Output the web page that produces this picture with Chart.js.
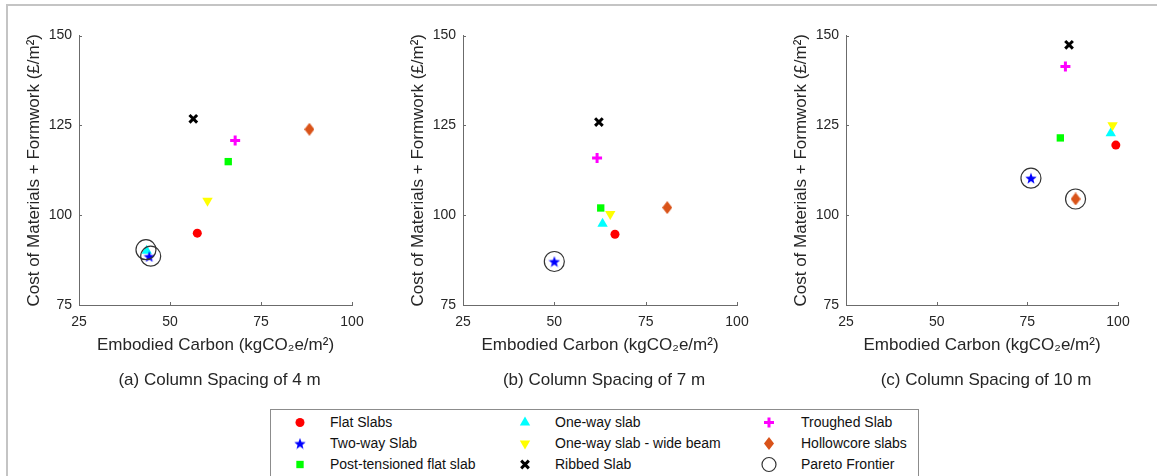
<!DOCTYPE html>
<html>
<head>
<meta charset="utf-8">
<script src="https://cdn.jsdelivr.net/npm/chart.js@4.4.1/dist/chart.umd.min.js"></script>
<style>
  html, body { margin: 0; padding: 0; background: #fff; }
  body { width: 1157px; height: 476px; position: relative; overflow: hidden; font-family: "Liberation Sans", Arial, sans-serif; }
  #frame { position: absolute; left: 6px; top: 4px; width: 1200px; height: 500px; border-left: 2px solid #c4c4c4; border-top: 2px solid #c4c4c4; }
  .panel { position: absolute; top: 0; }
  .caption { position: absolute; top: 369px; font-size: 17px; line-height: 22px; color: #262626; white-space: nowrap; transform: translateX(-50%); }
  #legend { position: absolute; left: 270px; top: 409px; width: 647px; height: 80px; border: 1px solid #8c8c8c; background: #fff; }
  .entry { position: absolute; height: 21px; }
  .entry canvas { position: absolute; left: 0; top: 0; }
  .entry span { position: absolute; top: 0; font-size: 14px; line-height: 21px; color: #111; white-space: nowrap; }
</style>
</head>
<body>
<div id="frame"></div>
<canvas id="panel-a" class="panel"></canvas>
<canvas id="panel-b" class="panel"></canvas>
<canvas id="panel-c" class="panel"></canvas>
<div id="legend"></div>

<script>
// ---------------------------------
// Data
// ---------------------------------
const panelTitles = ["(a) Column Spacing of 4 m", "(b) Column Spacing of 7 m", "(c) Column Spacing of 10 m"];
const carbonTicks = [25, 50, 75, 100];
const costTicks = [75, 100, 125, 150];

// [embodied carbon, cost] for panels a, b, c
const flatSlabs = [[57.5, 95.0], [66.6, 94.7], [99.4, 119.5]];
const twoWaySlab = [[44.3, 88.5], [50.0, 87.1], [76.0, 110.3]];
const postTensionedSlab = [[66.0, 114.9], [62.7, 102.0], [84.1, 121.5]];
const oneWaySlab = [[43.6, 90.1], [63.2, 97.6], [98.0, 122.8]];
const oneWayWideBeam = [[60.3, 104.0], [65.3, 100.3], [98.5, 125.0]];
const ribbedSlab = [[56.4, 126.8], [62.2, 125.9], [86.5, 147.4]];
const troughedSlab = [[67.9, 120.8], [61.7, 115.9], [85.5, 141.4]];
const hollowcoreSlabs = [[88.3, 123.9], [80.9, 102.1], [88.3, 104.5]];
const paretoFrontier = [
  [[43.4, 90.4], [44.7, 88.6]],
  [[50.0, 87.1]],
  [[76.0, 110.3], [88.3, 104.5]],
];

// ---------------------------------
// Styling
// ---------------------------------
const axisColor = "#6b6b6b";
const textColor = "#262626";
const fontFamily = "'Liberation Sans', Arial, sans-serif";
Chart.defaults.font.family = fontFamily;

function starImage(size, color) {
  const c = document.createElement("canvas");
  c.width = size;
  c.height = size;
  const g = c.getContext("2d");
  const R = size / 2, r = R * 0.42;
  g.beginPath();
  for (let i = 0; i < 10; i++) {
    const a = -Math.PI / 2 + (i * Math.PI) / 5;
    const rr = i % 2 ? r : R;
    g.lineTo(R + rr * Math.cos(a), R + 0.6 + rr * Math.sin(a));
  }
  g.closePath();
  g.fillStyle = color;
  g.fill();
  return c;
}

function diamondImage(w, h, color) {
  const c = document.createElement("canvas");
  c.width = w;
  c.height = h;
  const g = c.getContext("2d");
  g.beginPath();
  g.moveTo(w / 2, 0);
  g.lineTo(w, h / 2);
  g.lineTo(w / 2, h);
  g.lineTo(0, h / 2);
  g.closePath();
  g.fillStyle = color;
  g.fill();
  return c;
}

const star = starImage(12, "#0000ff");
const diamond = diamondImage(10, 13, "#d95319");

// one entry per series; order = drawing order (lower drawn on top)
const series = [
  { label: "Flat Slabs", data: flatSlabs, style: "circle", radius: 4.5, color: "#ff0000", order: 8 },
  { label: "Two-way Slab", data: twoWaySlab, style: star, radius: 6, color: "#0000ff", order: 1 },
  { label: "Post-tensioned flat slab", data: postTensionedSlab, style: "rect", radius: 5.2, color: "#00ff00", order: 7 },
  { label: "One-way slab", data: oneWaySlab, style: "triangle", radius: 6, color: "#00ffff", order: 6 },
  { label: "One-way slab - wide beam", data: oneWayWideBeam, style: "triangle", rotation: 180, radius: 6, color: "#ffff00", order: 5 },
  { label: "Ribbed Slab", data: ribbedSlab, style: "crossRot", radius: 5.4, color: "#000000", border: 3, order: 2 },
  { label: "Troughed Slab", data: troughedSlab, style: "cross", radius: 5, color: "#ff00ff", border: 3, order: 3 },
  { label: "Hollowcore slabs", data: hollowcoreSlabs, style: diamond, radius: 6, color: "#d95319", order: 4 },
  { label: "Pareto Frontier", data: null, style: "circle", radius: 10, legendRadius: 7, color: "rgba(0,0,0,0)", edge: "#333333", border: 1.2, order: 0 },
];

// panel boxes: canvas left/width and the plot's left/right edge (page px)
const panelBoxes = [
  { id: "panel-a", left: 0, width: 380, plotLeft: 79, plotRight: 352 },
  { id: "panel-b", left: 380, width: 380, plotLeft: 463, plotRight: 737 },
  { id: "panel-c", left: 760, width: 397, plotLeft: 846, plotRight: 1118 },
];
const captionShift = [4, 4, 4];

// small inward tick marks, MATLAB style
const innerTicks = {
  id: "innerTicks",
  afterDatasetsDraw(chart) {
    const { ctx, chartArea, scales } = chart;
    ctx.save();
    ctx.strokeStyle = axisColor;
    ctx.lineWidth = 1;
    ctx.beginPath();
    scales.x.ticks.forEach((t) => {
      const px = Math.round(scales.x.getPixelForValue(t.value)) + 0.5;
      ctx.moveTo(px, chartArea.bottom);
      ctx.lineTo(px, chartArea.bottom - 3);
    });
    scales.y.ticks.forEach((t) => {
      const py = Math.round(scales.y.getPixelForValue(t.value)) + 0.5;
      ctx.moveTo(chartArea.left, py);
      ctx.lineTo(chartArea.left + 3, py);
    });
    ctx.stroke();
    ctx.restore();
  },
};

panelBoxes.forEach(function (box, p) {
  const canvas = document.getElementById(box.id);
  canvas.width = box.width;
  canvas.height = 370;
  canvas.style.left = box.left + "px";

  const yAxisWidth = box.plotLeft - box.left;

  const datasets = series.map(function (s) {
    const pts = s.data ? [s.data[p]] : paretoFrontier[p];
    return {
      label: s.label,
      data: pts.map((d) => ({ x: d[0], y: d[1] })),
      pointStyle: s.style,
      pointRadius: s.radius,
      pointRotation: s.rotation || 0,
      backgroundColor: s.color,
      borderColor: s.edge || s.color,
      borderWidth: s.border || 0,
      order: s.order,
      clip: false,
    };
  });

  new Chart(canvas.getContext("2d"), {
    type: "scatter",
    data: { datasets: datasets },
    plugins: [innerTicks],
    options: {
      responsive: false,
      animation: false,
      events: [],
      layout: {
        padding: { top: 35.5, right: box.left + box.width - box.plotRight, left: 0, bottom: 0 },
      },
      plugins: {
        legend: { display: false },
        tooltip: { enabled: false },
      },
      scales: {
        x: {
          type: "linear",
          min: carbonTicks[0],
          max: carbonTicks[carbonTicks.length - 1],
          afterBuildTicks: (s) => { s.ticks = carbonTicks.map((v) => ({ value: v })); },
          afterFit: (s) => { s.height = 65; },
          grid: { display: false, drawTicks: false },
          border: { display: true, color: axisColor, width: 1 },
          ticks: { color: textColor, font: { size: 14 }, padding: 8.3 },
          title: {
            display: true,
            text: "Embodied Carbon (kgCO₂e/m²)",
            color: textColor,
            font: { size: 17 },
            padding: { top: 0, bottom: 14.8 },
          },
        },
        y: {
          type: "linear",
          min: costTicks[0],
          max: costTicks[costTicks.length - 1],
          afterBuildTicks: (s) => { s.ticks = costTicks.map((v) => ({ value: v })); },
          afterFit: (s) => { s.width = yAxisWidth; },
          grid: { display: false, drawTicks: false },
          border: { display: true, color: axisColor, width: 1 },
          ticks: { color: textColor, font: { size: 14 }, padding: 7 },
          title: {
            display: true,
            text: "Cost of Materials + Formwork (£/m²)",
            color: textColor,
            font: { size: 17 },
            padding: { top: yAxisWidth - 45 - 10.2, bottom: 0 },
          },
        },
      },
    },
  });

  const cap = document.createElement("div");
  cap.className = "caption";
  cap.textContent = panelTitles[p];
  cap.style.left = (box.plotLeft + box.plotRight) / 2 + captionShift[p] + "px";
  document.body.appendChild(cap);
});

// ---------------------------------
// Legend (3 columns, column-major like the figure)
// ---------------------------------
const legendEl = document.getElementById("legend");
const legendCols = [
  { marker: 300, text: 330 },
  { marker: 525, text: 555 },
  { marker: 769, text: 801 },
];
const legendRows = [422.5, 443.5, 464.5];
const legendLeft = 271, legendTop = 410;

series.forEach(function (s, i) {
  const col = legendCols[Math.floor(i / 3)];
  const rowY = legendRows[i % 3];
  const entry = document.createElement("div");
  entry.className = "entry";
  entry.style.left = col.marker - 12 - legendLeft + "px";
  entry.style.top = rowY - 10.5 - legendTop + "px";

  const c = document.createElement("canvas");
  c.width = 24;
  c.height = 21;
  const g = c.getContext("2d");
  g.fillStyle = s.color;
  g.strokeStyle = s.edge || s.color;
  g.lineWidth = s.border || 0;
  Chart.helpers.drawPoint(g, {
    pointStyle: s.style,
    radius: s.legendRadius || s.radius,
    rotation: s.rotation || 0,
    borderWidth: s.border || 0,
  }, 12, 10.5);
  entry.appendChild(c);

  const t = document.createElement("span");
  t.style.left = col.text - col.marker + 12 + "px";
  t.textContent = s.label;
  entry.appendChild(t);
  legendEl.appendChild(entry);
});
</script>
</body>
</html>
